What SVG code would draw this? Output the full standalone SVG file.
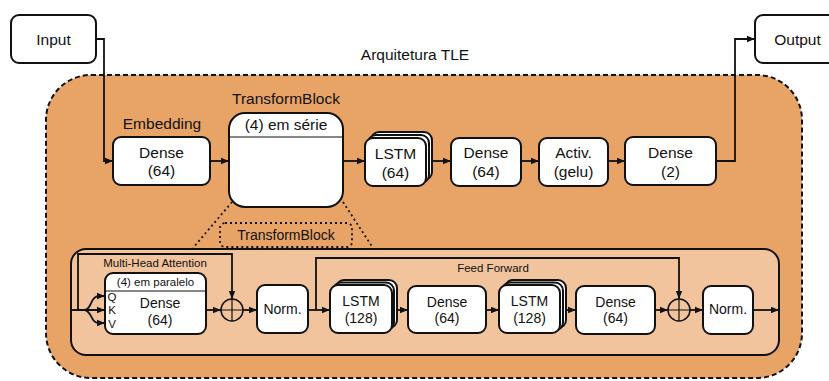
<svg xmlns="http://www.w3.org/2000/svg" width="829" height="381" viewBox="0 0 829 381">
<style>
text{font-family:"Liberation Sans",Arial,sans-serif;fill:#111;text-anchor:middle}
.t16{font-size:15.5px}
.t14{font-size:14px}
.t11{font-size:11.5px}
.box{fill:#fff;stroke:#111;stroke-width:2}
.ln{fill:none;stroke:#111;stroke-width:1.8}
.dot{fill:none;stroke:#111;stroke-width:1.8;stroke-dasharray:2 3}
</style>
<defs>
<marker id="ar" viewBox="0 0 8 8" refX="8" refY="4" markerWidth="8" markerHeight="8" markerUnits="userSpaceOnUse" orient="auto">
<path d="M0,0.8 L8,4 L0,7.2 Z" fill="#111"/>
</marker>
</defs>
<rect width="829" height="381" fill="#fff"/>
<g id="outer">
<rect x="46" y="75" width="756" height="303" rx="45" fill="#E8A466" stroke="#111" stroke-width="2" stroke-dasharray="5 3"/>
<text class="t16" x="415" y="60">Arquitetura TLE</text>
</g>
<g id="inner">
<rect x="71" y="249" width="708" height="106" rx="15" fill="#F2C49D" stroke="#111" stroke-width="2"/>
</g>
<g id="input"><rect class="box" x="11" y="15" width="85" height="48" rx="8"/><text class="t16" x="53.5" y="44.5">Input</text></g>
<g id="output"><rect class="box" x="755" y="15" width="85" height="48" rx="8"/><text class="t16" x="797.5" y="44.5">Output</text></g>
<g id="embedding"><text class="t16" x="162" y="129">Embedding</text><rect class="box" x="113" y="137" width="97" height="48" rx="8"/><text class="t16" x="161.5" y="158">Dense</text><text class="t16" x="161.5" y="175.5">(64)</text></g>
<g id="transformblock"><text class="t16" x="286" y="104">TransformBlock</text><rect class="box" x="229" y="113" width="114" height="94" rx="16"/><line x1="229" y1="137" x2="343" y2="137" stroke="#111" stroke-width="1.2"/><text class="t16" x="286" y="130">(4) em série</text></g>
<g id="lstm64"><rect class="box" x="371" y="132" width="61" height="48" rx="8"/><rect class="box" x="368" y="135" width="61" height="48" rx="8"/><rect class="box" x="365" y="138" width="61" height="48" rx="8"/><text class="t16" x="395.5" y="159">LSTM</text><text class="t16" x="395.5" y="178">(64)</text></g>
<g id="dense64"><rect class="box" x="451" y="138" width="70" height="48" rx="8"/><text class="t16" x="486" y="158">Dense</text><text class="t16" x="486" y="177">(64)</text></g>
<g id="activ"><rect class="box" x="539" y="138" width="69" height="48" rx="8"/><text class="t16" x="573.5" y="158">Activ.</text><text class="t16" x="573.5" y="177">(gelu)</text></g>
<g id="dense2"><rect class="box" x="625" y="137" width="91" height="48" rx="8"/><text class="t16" x="670.5" y="158">Dense</text><text class="t16" x="670.5" y="177">(2)</text></g>
<g id="zoom-link">
<line class="dot" x1="232" y1="202" x2="193" y2="248"/>
<line class="dot" x1="343" y1="202" x2="373" y2="248"/>
<rect x="220" y="223" width="132" height="24" rx="5" fill="none" stroke="#111" stroke-width="1.8" stroke-dasharray="2 3"/>
<text class="t14" x="286" y="240">TransformBlock</text>
</g>
<g id="mha"><text class="t11" x="155" y="267">Multi-Head Attention</text><rect class="box" x="105" y="273" width="101" height="61" rx="8"/><line x1="105" y1="291" x2="206" y2="291" stroke="#111" stroke-width="1.2"/><text class="t11" x="155.5" y="286">(4) em paralelo</text><text class="t14" x="160" y="308">Dense</text><text class="t14" x="160" y="325">(64)</text><text class="t11" x="112" y="301">Q</text><text class="t11" x="112" y="314">K</text><text class="t11" x="112" y="328">V</text></g>
<g id="add1"><circle cx="232" cy="310" r="11" fill="none" stroke="#111" stroke-width="1.5"/><path d="M221 310H243M232 299V321" stroke="#111" stroke-width="1.2"/></g>
<g id="norm1"><rect class="box" x="257" y="285" width="51" height="48" rx="8"/><text class="t14" x="282.5" y="314">Norm.</text></g>
<g id="ff-label"><text class="t11" x="493" y="272">Feed Forward</text></g>
<g id="lstm128a"><rect class="box" x="336" y="280" width="61" height="48" rx="8"/><rect class="box" x="333" y="282.5" width="61" height="48" rx="8"/><rect class="box" x="330" y="285" width="62" height="48" rx="8"/><text class="t14" x="361" y="306">LSTM</text><text class="t14" x="361" y="322.5">(128)</text></g>
<g id="dense64a"><rect class="box" x="408" y="286" width="78" height="47" rx="8"/><text class="t14" x="447" y="307">Dense</text><text class="t14" x="447" y="323">(64)</text></g>
<g id="lstm128b"><rect class="box" x="505" y="280" width="61" height="48" rx="8"/><rect class="box" x="502" y="282.5" width="61" height="48" rx="8"/><rect class="box" x="499" y="285" width="61" height="48" rx="8"/><text class="t14" x="529.5" y="306">LSTM</text><text class="t14" x="529.5" y="322.5">(128)</text></g>
<g id="dense64b"><rect class="box" x="576" y="286" width="79" height="48" rx="8"/><text class="t14" x="615.5" y="307">Dense</text><text class="t14" x="615.5" y="323">(64)</text></g>
<g id="add2"><circle cx="679" cy="310" r="11" fill="none" stroke="#111" stroke-width="1.5"/><path d="M668 310H690M679 299V321" stroke="#111" stroke-width="1.2"/></g>
<g id="norm2"><rect class="box" x="703" y="286" width="50" height="48" rx="8"/><text class="t14" x="728" y="314">Norm.</text></g>
<g id="connectors">
<path class="ln" d="M96 39H104V161H113" marker-end="url(#ar)"/>
<path class="ln" d="M210 161H229" marker-end="url(#ar)"/>
<path class="ln" d="M343 161H365" marker-end="url(#ar)"/>
<path class="ln" d="M432 161H451" marker-end="url(#ar)"/>
<path class="ln" d="M521 161H539" marker-end="url(#ar)"/>
<path class="ln" d="M608 161H625" marker-end="url(#ar)"/>
<path class="ln" d="M716 161H735V39H755" marker-end="url(#ar)"/>
<path class="ln" d="M71 310H105" marker-end="url(#ar)"/>
<path class="ln" d="M84 310C92 310 90 296 99 296H105" marker-end="url(#ar)"/>
<path class="ln" d="M84 310C92 310 90 323 99 323H105" marker-end="url(#ar)"/>
<path class="ln" d="M78 310V254H232V299" marker-end="url(#ar)"/>
<path class="ln" d="M206 310H221" marker-end="url(#ar)"/>
<path class="ln" d="M243 310H257" marker-end="url(#ar)"/>
<path class="ln" d="M308 310H330" marker-end="url(#ar)"/>
<path class="ln" d="M316 310V258H679V299" marker-end="url(#ar)"/>
<path class="ln" d="M397 310H408" marker-end="url(#ar)"/>
<path class="ln" d="M486 310H499" marker-end="url(#ar)"/>
<path class="ln" d="M566 310H576" marker-end="url(#ar)"/>
<path class="ln" d="M655 310H668" marker-end="url(#ar)"/>
<path class="ln" d="M690 310H703" marker-end="url(#ar)"/>
<path class="ln" d="M753 310H779" marker-end="url(#ar)"/>
</g>
</svg>
